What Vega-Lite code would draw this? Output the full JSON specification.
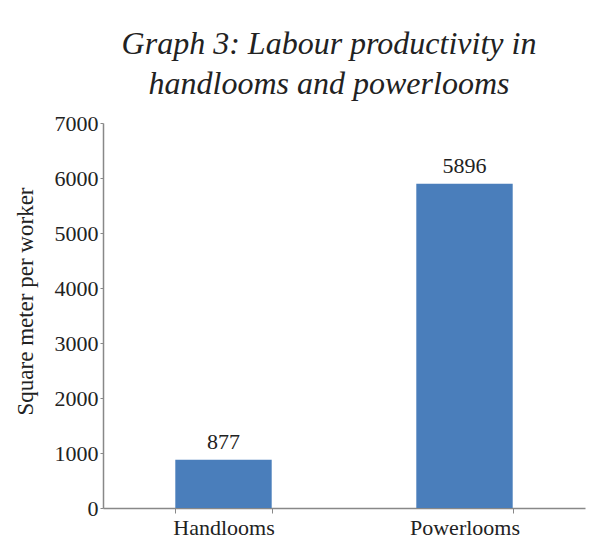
{
  "$schema": "https://vega.github.io/schema/vega-lite/v6.json",
  "width": 482,
  "height": 385,
  "autosize": "none",
  "padding": {"left": 103, "top": 123, "right": 13, "bottom": 35},
  "background": "white",
  "title": {
    "text": ["Graph 3: Labour productivity in", "handlooms and powerlooms"],
    "font": "Times New Roman, Liberation Serif, serif",
    "fontStyle": "italic",
    "fontWeight": "normal",
    "fontSize": 32,
    "lineHeight": 40,
    "color": "#222222",
    "anchor": "middle",
    "dx": -15,
    "offset": 11
  },
  "data": {
    "values": [
      {"type": "Handlooms", "value": 877},
      {"type": "Powerlooms", "value": 5896}
    ]
  },
  "encoding": {
    "x": {
      "field": "type",
      "type": "nominal",
      "sort": null,
      "scale": {"paddingInner": 0.6, "paddingOuter": 0.3},
      "axis": {
        "title": null,
        "labelAngle": 0,
        "labelFont": "Times New Roman, Liberation Serif, serif",
        "labelFontSize": 22,
        "labelColor": "#222222",
        "labelPadding": 4,
        "tickBand": "extent",
        "tickSize": 5,
        "tickColor": "#888888",
        "domainColor": "#888888",
        "domainWidth": 1.5
      }
    },
    "y": {
      "field": "value",
      "type": "quantitative",
      "scale": {"domain": [0, 7000], "nice": false},
      "axis": {
        "title": "Square meter per worker",
        "titleFont": "Times New Roman, Liberation Serif, serif",
        "titleFontSize": 23,
        "titleFontWeight": "normal",
        "titleColor": "#222222",
        "titleX": -78,
        "titleY": 178,
        "titleBaseline": "middle",
        "values": [0, 1000, 2000, 3000, 4000, 5000, 6000, 7000],
        "format": "d",
        "grid": false,
        "labelFont": "Times New Roman, Liberation Serif, serif",
        "labelFontSize": 22,
        "labelColor": "#222222",
        "labelPadding": 2,
        "tickSize": 3,
        "tickColor": "#888888",
        "domainColor": "#888888",
        "domainWidth": 1.5
      }
    }
  },
  "layer": [
    {"mark": {"type": "bar", "color": "#4A7EBB"}},
    {
      "mark": {
        "type": "text",
        "baseline": "alphabetic",
        "dy": -11,
        "font": "Times New Roman, Liberation Serif, serif",
        "fontSize": 22,
        "color": "#222222"
      },
      "encoding": {"text": {"field": "value", "type": "quantitative"}}
    }
  ],
  "config": {"view": {"stroke": null}}
}
